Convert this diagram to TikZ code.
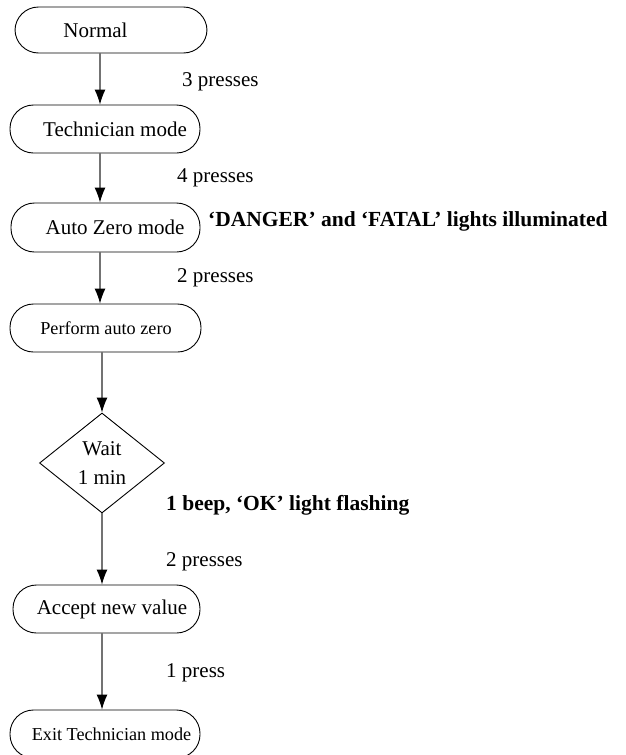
\documentclass[tikz,border=0pt]{standalone}
\usepackage{fontspec}
\setmainfont{Liberation Serif}
\usetikzlibrary{arrows.meta,shapes.geometric}
\begin{document}
\begin{tikzpicture}[x=1pt,y=-1pt,
  stadium/.style={draw=black,line width=0.9pt,rounded corners=23.5pt,inner sep=0pt,
    minimum height=48pt,font=\fontsize{21}{24}\selectfont},
  smallstadium/.style={stadium,font=\fontsize{18.2}{21}\selectfont},
  decision/.style={draw=black,line width=0.9pt,diamond,inner sep=0pt,
    minimum width=125pt,minimum height=100pt,font=\fontsize{21}{24}\selectfont,align=center},
  lbl/.style={anchor=west,inner sep=0pt,font=\fontsize{21}{24}\selectfont},
  blbl/.style={lbl,font=\fontsize{21.5}{24}\selectfont\bfseries},
  flow/.style={draw=black!55,line width=1.1pt,-{Latex[length=15pt,width=11pt,color=black]}}]
\useasboundingbox (0,0) rectangle (625,755);
\clip (0,0) rectangle (625,755);
\fill[white] (0,0) rectangle (625,755);

\node[stadium,minimum width=192pt,minimum height=46pt] (normal) at (111,30) {Normal\hspace*{31pt}};
\node[stadium,minimum width=190pt] (tech) at (105,129) {\hspace*{20pt}Technician mode};
\node[stadium,minimum width=189pt,minimum height=49pt] (auto) at (105.5,227.5) {\hspace*{19pt}Auto Zero mode};
\node[smallstadium,minimum width=191pt] (perform) at (105.5,328) {\hspace*{1pt}Perform auto zero};
\node[decision] (wait) at (102,463) {Wait\\[5pt]1 min};
\node[stadium,minimum width=187pt] (accept) at (106.5,609) {\hspace*{11pt}Accept new value};
\node[smallstadium,minimum width=190pt] (exit) at (105,734) {\hspace*{13pt}Exit Technician mode};

\draw[flow] (normal.south -| 100,0) -- (tech.north -| 100,0);
\draw[flow] (tech.south -| 100,0) -- (auto.north -| 100,0);
\draw[flow] (auto.south -| 100,0) -- (perform.north -| 100,0);
\draw[flow] (perform.south -| wait.north) -- (wait.north);
\draw[flow] (wait.south) -- (accept.north -| wait.south);
\draw[flow] (accept.south -| 102,0) -- (exit.north -| 102,0);

\node[lbl] (l1) at (182,82) {3 presses};
\node[lbl] (l2) at (177,178) {4 presses};
\node[blbl] (l3) at (208,221) {‘DANGER’ and ‘FATAL’ lights illuminated};
\node[lbl] (l4) at (177,278) {2 presses};
\node[blbl] (l5) at (166,505) {1 beep, ‘OK’ light flashing};
\node[lbl] (l6) at (166,562) {2 presses};
\node[lbl] (l7) at (166,673) {1 press};
\end{tikzpicture}
\end{document}
